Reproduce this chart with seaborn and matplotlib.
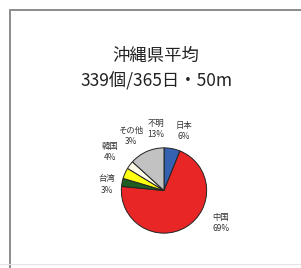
import matplotlib.pyplot as plt
import seaborn as sns
from matplotlib.lines import Line2D
import numpy as np

# data
categories = ['日本', '中国', '台湾', '韓国', 'その他', '不明']
shares = [6, 69, 3, 4, 3, 13]
title_lines = ['沖縄県平均', '339個/365日・50m']

# label placement tweaks (degrees shifted from wedge centre, radius in pie units)
label_shift = [7, -29, -5, 12, 22, 16]
label_radius = [1.47, 1.54, 1.35, 1.55, 1.5, 1.45]

sns.set_theme(style='white')
plt.rcParams['font.family'] = ['Noto Sans CJK JP', 'DejaVu Sans']

colors = sns.color_palette(['#3462b0', '#e82626', '#1f5e22', '#ffff10', '#fffde8', '#c2c2c2'])

W, H = 301, 268
fig = plt.figure(figsize=(W / 100, H / 100), dpi=100)
fig.patch.set_facecolor('white')

# outer frame like the pasted chart area
fig.add_artist(Line2D([10 / W, 10 / W], [0, 1 - 10 / H], color='#8c8c8c', lw=1.4))
fig.add_artist(Line2D([10 / W, 1], [1 - 10 / H, 1 - 10 / H], color='#8c8c8c', lw=1.4))
fig.add_artist(Line2D([0, 1], [4 / H, 4 / H], color='#e4e4e4', lw=0.8))

fig.text(0.518, 0.791, title_lines[0], ha='center', va='center', fontsize=12.5, color='#222222')
fig.text(0.52, 0.698, title_lines[1], ha='center', va='center', fontsize=12.5, color='#222222')

cx, cy, r = 164, 190.5, 43.5
ax = fig.add_axes([(cx - r) / W, (H - cy - r) / H, 2 * r / W, 2 * r / H])
wedges, _ = ax.pie(shares, colors=colors, startangle=90, counterclock=False,
                   wedgeprops=dict(edgecolor='#222222', linewidth=0.7))
ax.set_xlim(-1.02, 1.02)
ax.set_ylim(-1.02, 1.02)
ax.axis('off')

for w, name, val, sh, rad in zip(wedges, categories, shares, label_shift, label_radius):
    mid = (w.theta1 + w.theta2) / 2 - sh
    x = rad * np.cos(np.radians(mid))
    y = rad * np.sin(np.radians(mid))
    ax.text(x, y, f'{name}\n{val}%', ha='center', va='center', fontsize=6,
            color='#333333', linespacing=1.3, clip_on=False)

fig.savefig('out.png', dpi=100, facecolor='white')
